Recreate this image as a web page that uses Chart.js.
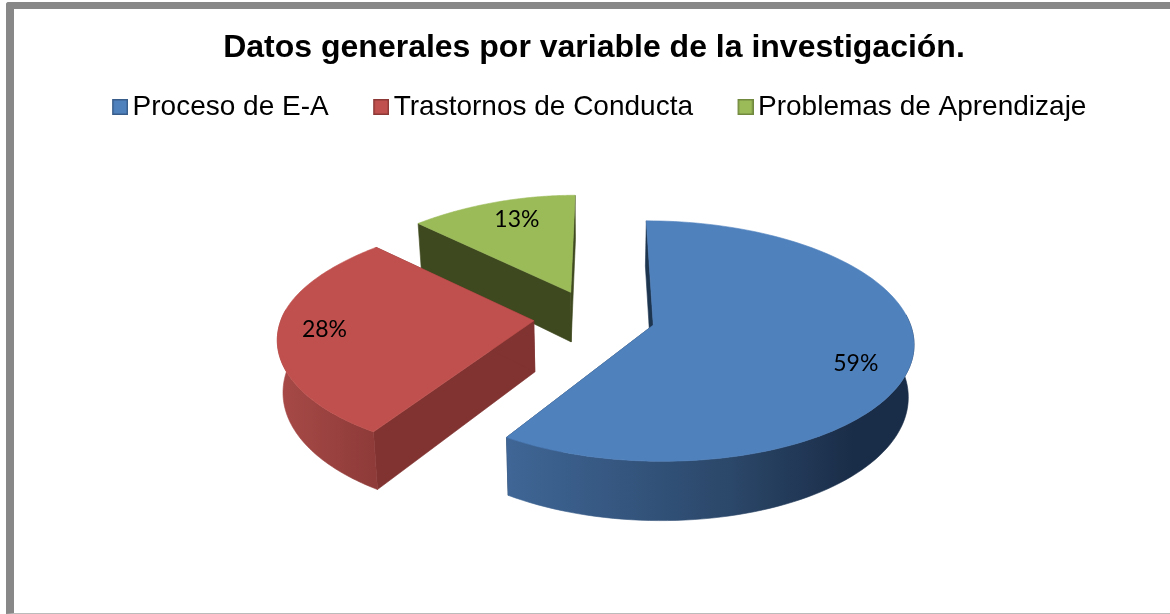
<!DOCTYPE html>
<html lang="es">
<head>
<meta charset="utf-8">
<title>Datos generales por variable de la investigación</title>
<script src="https://cdn.jsdelivr.net/npm/chart.js@4"></script>
<style>
  html,body{margin:0;padding:0;background:#fff;width:1170px;height:614px;overflow:hidden}
  #frame{position:absolute;left:6px;top:2px;width:1164px;height:612px;box-sizing:border-box;
    border-left:8px solid #888;border-top:7px solid #888;border-bottom:1px solid #bbb;border-top-left-radius:3px}
  canvas{position:absolute;left:0;top:0;display:block}
</style>
</head>
<body>
<div id="frame"></div>
<canvas id="c" width="1170" height="614"></canvas>
<script>
const chartTitle = 'Datos generales por variable de la investigación.';
const categories = ['Proceso de E-A', 'Trastornos de Conducta', 'Problemas de Aprendizaje'];
const values = [59, 28, 13];
const topColors = ['#4F81BD', '#C0504D', '#9BBB59'];
const legendBorders = ['#385D8A', '#8C3836', '#71893F'];
const wallColors = ['#1E3550', '#803331', '#3F4920'];
const rimLight = ['#3F6696', '#A84A47', '#7A9446'];
const rimDark = ['#1A2D48', '#8E3B39', '#5E7236'];

// 3D look: perspective projection of the flat pie
const EXPLODE = 0.24, RX = 255, RX_LEFT = 252, RY = 116, PERSP = 0.132, PERSP_BACK_LEFT = 0.075, DEPTH = 51, SHRINK = 0.018;

function legendSwatch(i){
  const s = document.createElement('canvas'); s.width = 20; s.height = 16;
  const g = s.getContext('2d');
  g.fillStyle = legendBorders[i]; g.fillRect(4,0,16,16);
  g.fillStyle = topColors[i]; g.fillRect(5.5,1.5,13,13);
  return s;
}

function project(cx, cy, u, v, z){
  const w = 1 + PERSP*v;
  const wx = (u < 0 && v > 0) ? w + PERSP_BACK_LEFT*v*v : w;
  return [cx + (u < 0 ? RX_LEFT : RX)*u/wx*(1 - SHRINK*z), cy - RY*v/w + DEPTH*z/w];
}

const pie3d = {
  id: 'pie3d',
  afterLayout(chart){
    const l = chart.legend;
    const h = l.bottom - l.top;
    l.top = 43; l.bottom = 43 + h;
    l.left += 8; l.right += 8;
  },
  beforeDatasetDraw(chart, args){
    const ctx = chart.ctx, arcs = args.meta.data;
    const cx = arcs[0].x, cy = arcs[0].y;
    const P = (u,v,z) => project(cx, cy, u, v, z);
    const items = arcs.map((a,i) => {
      const t0 = a.startAngle + Math.PI/2, t1 = a.endAngle + Math.PI/2, mid = (t0+t1)/2;
      return {i, t0, t1, mid, ou: EXPLODE*Math.sin(mid), ov: EXPLODE*Math.cos(mid)};
    });
    items.sort((p,q) => q.ov - p.ov);
    const poly = (pts, fill) => {
      ctx.beginPath();
      pts.forEach((p,k) => k ? ctx.lineTo(p[0],p[1]) : ctx.moveTo(p[0],p[1]));
      ctx.closePath();
      ctx.fillStyle = fill; ctx.fill();
      ctx.strokeStyle = fill; ctx.lineWidth = 0.6; ctx.stroke();
    };
    items.forEach(s => {
      const n = 120, ts = [];
      for(let k=0;k<=n;k++) ts.push(s.t0 + (s.t1-s.t0)*k/n);
      const rimAt = (t,z) => P(s.ou+Math.sin(t), s.ov+Math.cos(t), z);
      const rimTop = ts.map(t => rimAt(t,0));
      const vTop = P(s.ou,s.ov,0), vBot = P(s.ou,s.ov,1);
      // radial walls
      poly([vTop, rimAt(s.t0,0), rimAt(s.t0,1), vBot], wallColors[s.i]);
      poly([vTop, rimAt(s.t1,0), rimAt(s.t1,1), vBot], wallColors[s.i]);
      // outer wall: only the front-facing part, with horizontal shading
      const front = ts.filter(t => Math.cos(t) < 0.1);
      if(front.length > 1){
        const a = front.map(t => rimAt(t,0)), b = front.map(t => rimAt(t,1));
        const xa = Math.min(...a.map(p=>p[0])), xb = Math.max(...a.map(p=>p[0]));
        const grad = ctx.createLinearGradient(xa,0,xb,0);
        grad.addColorStop(0, rimLight[s.i]);
        if(s.i === 0){ grad.addColorStop(0.55, '#2B4769'); grad.addColorStop(0.85, rimDark[s.i]); }
        grad.addColorStop(1, rimDark[s.i]);
        poly(a.concat(b.reverse()), grad);
      }
      // top face
      poly([vTop].concat(rimTop), topColors[s.i]);
    });
    return false;
  },
  afterDatasetsDraw(chart){
    const ctx = chart.ctx, arcs = chart.getDatasetMeta(0).data;
    const cx = arcs[0].x, cy = arcs[0].y;
    const total = values.reduce((a,b)=>a+b,0);
    const nudge = [[-3,11],[-5,-3],[10,1]];
    ctx.save();
    ctx.font = '23px Lato, "Open Sans", sans-serif';
    ctx.fillStyle = '#000';
    ctx.textAlign = 'center'; ctx.textBaseline = 'middle';
    arcs.forEach((a,i) => {
      const mid = (a.startAngle + a.endAngle)/2 + Math.PI/2;
      const r = EXPLODE + 0.8;
      const p = project(cx, cy, r*Math.sin(mid), r*Math.cos(mid), 0);
      ctx.fillText(Math.round(values[i]/total*100) + '%', p[0] + nudge[i][0], p[1] + nudge[i][1]);
    });
    ctx.restore();
  }
};

new Chart(document.getElementById('c'), {
  type: 'pie',
  data: { labels: categories, datasets: [{ data: values, backgroundColor: topColors, borderWidth: 0 }] },
  plugins: [pie3d],
  options: {
    responsive: false,
    animation: false,
    layout: { padding: { left: 18, right: 0, top: 0, bottom: 135 } },
    plugins: {
      tooltip: { enabled: false },
      title: {
        display: true, text: chartTitle, color: '#000',
        font: { family: '"Liberation Sans", Arial, sans-serif', size: 32, weight: 'bold' },
        padding: { top: 29, bottom: 0 }
      },
      legend: {
        display: true, position: 'top',
        labels: {
          usePointStyle: true, boxWidth: 1, padding: 50, color: '#000',
          font: { family: '"Liberation Sans", Arial, sans-serif', size: 28 },
          generateLabels: () => categories.map((t,i) => ({ text: t, pointStyle: legendSwatch(i), index: i, fontColor: '#000', hidden: false, lineWidth: 0 }))
        }
      }
    }
  }
});
</script>
</body>
</html>
